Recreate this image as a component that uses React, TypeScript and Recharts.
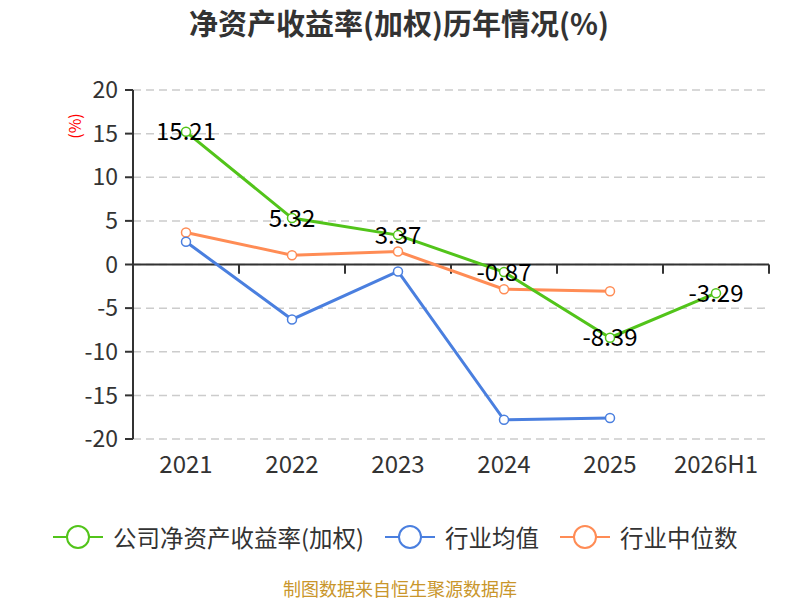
import React from 'react';
import { LineChart, Line, XAxis, YAxis, CartesianGrid, ReferenceLine, LabelList } from 'recharts';

const categories = ['2021', '2022', '2023', '2024', '2025', '2026H1'];
const companyRoe = [15.21, 5.32, 3.37, -0.87, -8.39, -3.29];
const industryAvg = [2.6, -6.3, -0.8, -17.8, -17.6, null];
const industryMedian = [3.67, 1.07, 1.49, -2.83, -3.06, null];
const yTicks = [-20, -15, -10, -5, 0, 5, 10, 15, 20];
const boundaryTicks = [0.5, 1.5, 2.5, 3.5, 4.5, 5.5];

const GREEN = '#52c41a';
const BLUE = '#4a7fdf';
const ORANGE = '#ff8c55';
const FONT = '"Noto Sans CJK SC", "Noto Sans", sans-serif';

const data = categories.map((c, i) => ({
  x: i,
  name: c,
  company: companyRoe[i],
  avg: industryAvg[i],
  median: industryMedian[i],
}));

const legendItems = [
  { label: '公司净资产收益率(加权)', color: GREEN },
  { label: '行业均值', color: BLUE },
  { label: '行业中位数', color: ORANGE },
];

const ValueLabel = (props: any) => {
  const { x, y, value } = props;
  if (value == null) return null;
  return (
    <text x={x} y={y - 2} textAnchor="middle" dominantBaseline="central" fontSize={24} fill="#000" fontFamily={FONT}>
      {value}
    </text>
  );
};

export default function App() {
  return (
    <div style={{ position: 'absolute', left: 0, top: 0, width: 800, height: 600, fontFamily: FONT, background: '#fff' }}>
      <LineChart width={800} height={600} data={data} margin={{ top: 90, right: 31, left: 0, bottom: 121 }}>
        <CartesianGrid vertical={false} stroke="#cccccc" strokeDasharray="8 5" strokeWidth={1.5} />
        <XAxis
          dataKey="x"
          type="number"
          domain={[-0.5, 5.5]}
          ticks={[0, 1, 2, 3, 4, 5]}
          tickFormatter={(v: number) => categories[v]}
          axisLine={false}
          tickLine={false}
          tickSize={0}
          tickMargin={17}
          height={40}
          tick={{ fontSize: 24, fill: '#333', fontFamily: FONT }}
          interval={0}
        />
        <YAxis
          type="number"
          domain={[-20, 20]}
          ticks={yTicks}
          width={133}
          axisLine={{ stroke: '#333', strokeWidth: 2 }}
          tickLine={{ stroke: '#333', strokeWidth: 2 }}
          tickSize={8}
          tickMargin={7}
          tick={{ fontSize: 23, fill: '#333', fontFamily: FONT }}
          interval={0}
        />
        <ReferenceLine y={0} stroke="#333" strokeWidth={2} />
        {boundaryTicks.map((b) => (
          <ReferenceLine
            key={b}
            segment={[{ x: b, y: 0 }, { x: b, y: -1.05 }]}
            stroke="#333"
            strokeWidth={2}
          />
        ))}
        <Line
          type="linear"
          dataKey="median"
          stroke={ORANGE}
          strokeWidth={3}
          dot={{ r: 4.5, fill: '#fff', stroke: ORANGE, strokeWidth: 1.5 }}
          isAnimationActive={false}
        />
        <Line
          type="linear"
          dataKey="avg"
          stroke={BLUE}
          strokeWidth={3}
          dot={{ r: 4.5, fill: '#fff', stroke: BLUE, strokeWidth: 1.5 }}
          isAnimationActive={false}
        />
        <Line
          type="linear"
          dataKey="company"
          stroke={GREEN}
          strokeWidth={3}
          dot={{ r: 4.5, fill: '#fff', stroke: GREEN, strokeWidth: 1.5 }}
          isAnimationActive={false}
        >
          <LabelList dataKey="company" content={ValueLabel} />
        </Line>
      </LineChart>

      <div style={{ position: 'absolute', left: 0, top: 3, width: 798, textAlign: 'center', fontSize: 29, fontWeight: 'bold', color: '#333', lineHeight: '38px' }}>
        净资产收益率(加权)历年情况(%)
      </div>

      <div style={{ position: 'absolute', left: 74, top: 126, width: 0, height: 0 }}>
        <div style={{ position: 'absolute', transform: 'translate(-50%, -50%) rotate(-90deg)', color: '#ff0000', fontSize: 16, whiteSpace: 'nowrap', lineHeight: '16px' }}>
          (%)
        </div>
      </div>

      <div style={{ position: 'absolute', left: 53, top: 521, height: 32, display: 'flex', alignItems: 'center' }}>
        {legendItems.map((it, i) => (
          <div key={it.label} style={{ display: 'flex', alignItems: 'center', marginRight: i < legendItems.length - 1 ? 21 : 0 }}>
            <svg width={50} height={26} style={{ marginRight: 10 }}>
              <line x1={0} y1={13} x2={50} y2={13} stroke={it.color} strokeWidth={2} />
              <circle cx={25} cy={13} r={11} fill="#fff" stroke={it.color} strokeWidth={2} />
            </svg>
            <span style={{ fontSize: 23.5, color: '#333', whiteSpace: 'nowrap', lineHeight: '32px' }}>{it.label}</span>
          </div>
        ))}
      </div>

      <div style={{ position: 'absolute', left: 0, top: 577, width: 800, textAlign: 'center', fontSize: 18, color: '#c9962b', lineHeight: '22px' }}>
        制图数据来自恒生聚源数据库
      </div>
    </div>
  );
}
